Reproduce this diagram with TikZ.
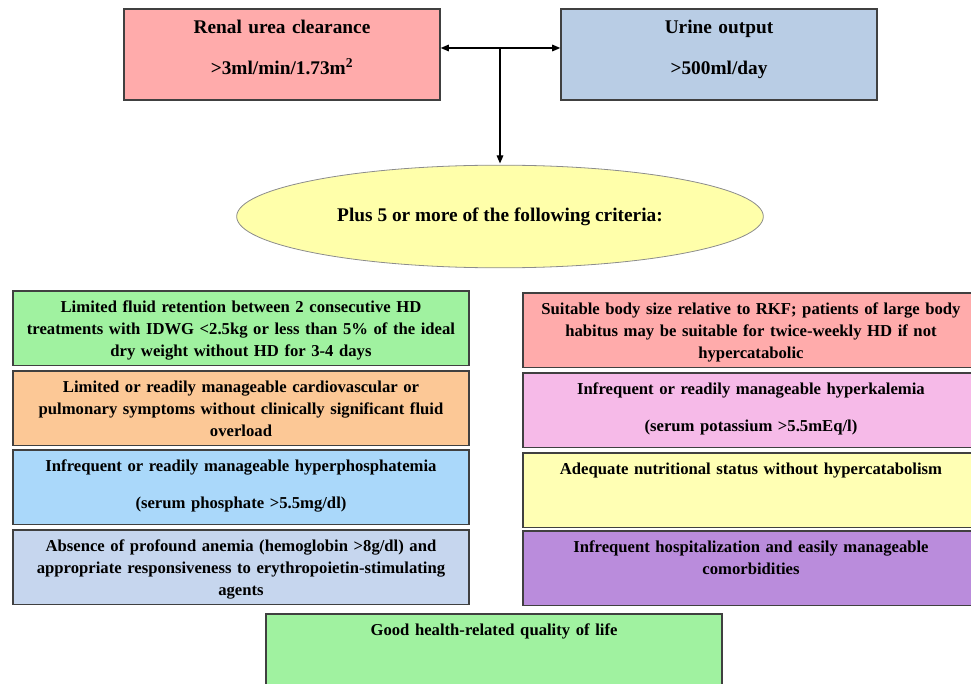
\documentclass[tikz,border=0pt]{standalone}
\usepackage{fontspec}
\setmainfont{Liberation Serif}
\usetikzlibrary{positioning,shapes.geometric,arrows.meta}
\definecolor{renalpink}{RGB}{255,171,171}
\definecolor{urineblue}{RGB}{185,205,229}
\definecolor{plusyellow}{RGB}{255,255,170}
\definecolor{fluidgreen}{RGB}{160,242,160}
\definecolor{cardioorange}{RGB}{252,200,150}
\definecolor{phosblue}{RGB}{170,216,250}
\definecolor{anemiablue}{RGB}{198,214,238}
\definecolor{kalemiapink}{RGB}{246,186,232}
\definecolor{nutriyellow}{RGB}{255,255,180}
\definecolor{hospviolet}{RGB}{186,140,220}
\definecolor{boxline}{RGB}{64,64,64}
\tikzset{
  topbox/.style = {draw=boxline, line width=1.2pt, anchor=north, inner sep=0pt,
                   text width=237pt, align=center,
                   font=\fontsize{14.5}{17}\selectfont\bfseries,
                   text height=18.75pt, text depth=49.5pt},
  % criteria boxes: first baseline fixed from the top edge
  crit/.style   = {draw=boxline, line width=1.2pt, anchor=north, inner sep=0pt,
                   text width=342pt, align=center,
                   font=\fontsize{12.5}{16.5}\selectfont\bfseries,
                   text height=16pt, text depth=40pt},
  plus/.style   = {ellipse, draw=black!45, line width=0.6pt, fill=plusyellow,
                   minimum width=395pt, minimum height=77pt, inner sep=0pt,
                   font=\fontsize{14.5}{17}\selectfont\bfseries},
  link/.style   = {draw=black, line width=0.8pt},
  arr/.style    = {-{Triangle[length=6pt,width=5pt]}},
}

\begin{document}
\begin{tikzpicture}[x=0.75pt, y=-0.75pt]
  \clip (0,0) rectangle (971,684);

  \node[topbox, fill=renalpink] (renal) at (282,8)
       {Renal urea clearance\\[13.75pt] >3ml/min/1.73m\textsuperscript{2}};
  \node[topbox, fill=urineblue] (urine) at (719,8)
       {Urine output\\[13.75pt] >500ml/day};
  \coordinate (hub) at (500,48);

  \node[plus] (plus) at (500,216.5) {Plus 5 or more of the following criteria:};

  \draw[link, arr] (hub) -- (hub -| renal.east);
  \draw[link, arr] (hub) -- (hub -| urine.west);
  \draw[link, arr, shorten >=1pt] (hub) -- (plus.north);

  % left column
  \node[crit, fill=fluidgreen] (fluid) at (241,290)
       {Limited fluid retention between 2 consecutive HD\\ treatments with IDWG <2.5kg or less than 5\% of the ideal\\ dry weight without HD for 3-4 days};
  \node[crit, fill=cardioorange] (cardio) at (241,370)
       {Limited or readily manageable cardiovascular or\\ pulmonary symptoms without clinically significant fluid\\ overload};
  \node[crit, fill=phosblue] (phos) at (241,449)
       {Infrequent or readily manageable hyperphosphatemia\\[11.5pt] (serum phosphate >5.5mg/dl)};
  \node[crit, fill=anemiablue] (anemia) at (241,529)
       {Absence of profound anemia (hemoglobin >8g/dl) and\\ appropriate responsiveness to erythropoietin-stimulating\\ agents};

  % right column
  \node[crit, fill=renalpink] (size) at (751,292)
       {Suitable body size relative to RKF; patients of large body\\ habitus may be suitable for twice-weekly HD if not\\ hypercatabolic};
  \node[crit, fill=kalemiapink] (kalemia) at (751,372)
       {Infrequent or readily manageable hyperkalemia\\[11.5pt] (serum potassium >5.5mEq/l)};
  \node[crit, fill=nutriyellow] (nutri) at (751,452)
       {Adequate nutritional status without hypercatabolism};
  \node[crit, fill=hospviolet] (hosp) at (751,530)
       {Infrequent hospitalization and easily manageable\\ comorbidities};

  \node[crit, fill=fluidgreen, text depth=60pt] (qol) at (494,613)
       {Good health-related quality of life};
\end{tikzpicture}
\end{document}
